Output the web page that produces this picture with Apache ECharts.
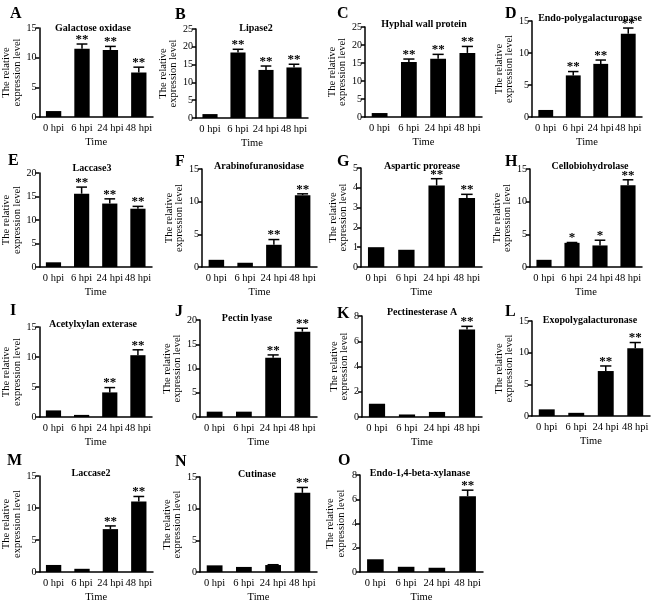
<!DOCTYPE html>
<html lang="en">
  <head>
    <meta charset="UTF-8" />
    <title>Relative expression levels</title>
    <script src="https://cdn.jsdelivr.net/npm/echarts@6/dist/echarts.min.js"></script>
    <style>
      html, body { margin: 0; padding: 0; background: #fff; }
      #main { width: 654px; height: 604px; }
    </style>
  </head>
  <body>
    <div id="main"></div>
    <script>
      // data (mean, upper error, significance stars)
      var timePoints = ["0 hpi", "6 hpi", "24 hpi", "48 hpi"];
      var panelLetters = ["A", "B", "C", "D", "E", "F", "G", "H", "I", "J", "K", "L", "M", "N", "O"];
      var geneNames = [
        "Galactose oxidase", "Lipase2", "Hyphal wall protein", "Endo-polygalacturonase",
        "Laccase3", "Arabinofuranosidase", "Aspartic prorease", "Cellobiohydrolase",
        "Acetylxylan exterase", "Pectin lyase", "Pectinesterase A", "Exopolygalacturonase",
        "Laccase2", "Cutinase", "Endo-1,4-beta-xylanase"
      ];
      var meanLevels = [
        [1.0, 11.5, 11.3, 7.5],
        [1.1, 18.4, 13.5, 14.2],
        [1.1, 15.3, 16.2, 17.8],
        [1.1, 6.5, 8.3, 13.0],
        [1.0, 15.6, 13.5, 12.4],
        [1.1, 0.65, 3.4, 11.0],
        [1.0, 0.87, 4.12, 3.48],
        [1.1, 3.7, 3.3, 12.5],
        [1.1, 0.35, 4.1, 10.3],
        [1.1, 1.1, 12.2, 17.6],
        [1.05, 0.2, 0.4, 6.94],
        [1.05, 0.5, 7.1, 10.7],
        [1.1, 0.5, 6.7, 11.0],
        [1.05, 0.8, 1.1, 12.5],
        [1.05, 0.43, 0.35, 6.25]
      ];
      var errorBars = [
        [0, 0.8, 0.6, 0.9],
        [0, 0.9, 1.1, 0.9],
        [0, 0.8, 1.2, 1.8],
        [0, 0.6, 0.6, 0.9],
        [0, 1.4, 1.0, 0.5],
        [0, 0, 0.8, 0.2],
        [0, 0, 0.34, 0.19],
        [0, 0.05, 0.8, 0.85],
        [0, 0, 0.8, 0.9],
        [0, 0, 0.6, 0.7],
        [0, 0, 0, 0.24],
        [0, 0, 0.8, 0.9],
        [0, 0, 0.5, 0.8],
        [0, 0, 0.05, 0.85],
        [0, 0, 0, 0.5]
      ];
      var starMarks = [
        [0, 2, 2, 2], [0, 2, 2, 2], [0, 2, 2, 2], [0, 2, 2, 2],
        [0, 2, 2, 2], [0, 0, 2, 2], [0, 0, 2, 2], [0, 1, 1, 2],
        [0, 0, 2, 2], [0, 0, 2, 2], [0, 0, 0, 2], [0, 0, 2, 2],
        [0, 0, 2, 2], [0, 0, 0, 2], [0, 0, 0, 2]
      ];
      var yMaxValues = [15, 25, 25, 15, 20, 15, 5, 15, 15, 20, 8, 15, 15, 15, 8];
      var yStepValues = [5, 5, 5, 5, 5, 5, 1, 5, 5, 5, 2, 5, 5, 5, 2];

      // layout: plot box [left, top, width, height], letter [x, y], title [centerX, y], y-name gap
      var boxes = [
        [39, 28, 114, 89], [196, 29, 112, 89], [365, 27, 117, 90], [532, 21, 110, 96],
        [38, 173, 114, 94], [202, 169, 115, 98], [361, 168, 121, 99], [530, 169, 112, 98],
        [39, 327, 113, 90], [200, 320, 117, 97], [362, 316, 120, 101], [532, 321, 118, 95],
        [39, 476, 114, 98], [200, 477, 117, 97], [360, 475, 123, 98]
      ];
      var letterPos = [
        [10, 6], [175, 7], [337, 6], [505, 6],
        [8, 153], [175, 154], [337, 154], [505, 154],
        [10, 303], [175, 304], [337, 306], [505, 304],
        [7, 453], [175, 454], [338, 453]
      ];
      var titlePos = [
        [93, 23], [256, 23], [424, 19], [590, 13],
        [92, 163], [259, 161], [422, 161], [590, 161],
        [93, 319], [247, 313], [422, 307], [590, 315],
        [91, 468], [257, 469], [420, 468]
      ];
      var nameGaps = [15, 6, 10, 11, 16, 13, 8, 12, 16, 14, 9, 11, 16, 11, 14];

      var font = "'Liberation Serif', 'Times New Roman', serif";
      var axisStyle = { color: "#000", width: 1.5 };

      var grids = [], xAxes = [], yAxes = [], series = [], titles = [];

      geneNames.forEach(function (name, i) {
        var b = boxes[i];
        grids.push({ left: b[0], top: b[1], width: b[2], height: b[3] });

        xAxes.push({
          type: "category",
          gridIndex: i,
          data: timePoints,
          name: "Time",
          nameLocation: "middle",
          nameGap: 20,
          nameTextStyle: { fontFamily: font, fontSize: 10.5, color: "#000" },
          axisLine: { lineStyle: axisStyle },
          axisTick: { show: false },
          axisLabel: { fontFamily: font, fontSize: 10.5, color: "#000", margin: 6, interval: 0 },
        });

        yAxes.push({
          type: "value",
          gridIndex: i,
          min: 0,
          max: yMaxValues[i],
          interval: yStepValues[i],
          name: "The relative\nexpression level",
          nameLocation: "middle",
          nameGap: nameGaps[i],
          nameRotate: 90,
          nameTextStyle: { fontFamily: font, fontSize: 10.5, color: "#000", lineHeight: 10.5 },
          axisLine: { show: true, lineStyle: axisStyle },
          axisTick: { show: true, length: 4, lineStyle: axisStyle },
          axisLabel: { fontFamily: font, fontSize: 10, color: "#000", margin: 3 },
          splitLine: { show: false },
        });

        // bars
        series.push({
          type: "bar",
          xAxisIndex: i,
          yAxisIndex: i,
          data: meanLevels[i],
          barWidth: "54%",
          itemStyle: { color: "#000" },
          silent: true,
        });

        // upper error bars and significance stars
        var errData = meanLevels[i].map(function (v, k) {
          return [k, v, errorBars[i][k], starMarks[i][k]];
        });
        series.push({
          type: "custom",
          xAxisIndex: i,
          yAxisIndex: i,
          data: errData,
          encode: { x: 0, y: 1 },
          silent: true,
          z: 3,
          renderItem: function (params, api) {
            var k = api.value(0);
            var v = api.value(1);
            var e = api.value(2);
            var s = api.value(3);
            var base = api.coord([k, v]);
            var top = api.coord([k, v + e]);
            var half = api.size([1, 0])[0] * 0.19;
            var kids = [];
            if (e > 0) {
              kids.push({
                type: "line",
                shape: { x1: base[0], y1: base[1], x2: top[0], y2: top[1] },
                style: { stroke: "#000", lineWidth: 1.5 },
              });
              kids.push({
                type: "line",
                shape: { x1: top[0] - half, y1: top[1], x2: top[0] + half, y2: top[1] },
                style: { stroke: "#000", lineWidth: 1.5 },
              });
            }
            if (s > 0) {
              kids.push({
                type: "text",
                x: top[0],
                y: top[1] + 2,
                style: {
                  text: "*".repeat(s),
                  fill: "#000",
                  font: "bold 13px " + font,
                  textAlign: "center",
                  textVerticalAlign: "bottom",
                },
              });
            }
            return { type: "group", children: kids };
          },
        });

        titles.push({
          text: panelLetters[i],
          left: letterPos[i][0],
          top: letterPos[i][1],
          padding: 0,
          textStyle: { fontFamily: font, fontSize: 16, fontWeight: "bold", color: "#000" },
        });
        titles.push({
          text: name,
          left: titlePos[i][0],
          top: titlePos[i][1],
          textAlign: "center",
          padding: 0,
          textStyle: { fontFamily: font, fontSize: 10, fontWeight: "bold", color: "#000" },
        });
      });

      var myChart = echarts.init(document.getElementById("main"));
      myChart.setOption({
        backgroundColor: "#fff",
        animation: false,
        title: titles,
        grid: grids,
        xAxis: xAxes,
        yAxis: yAxes,
        series: series,
      });
    </script>
  </body>
</html>
